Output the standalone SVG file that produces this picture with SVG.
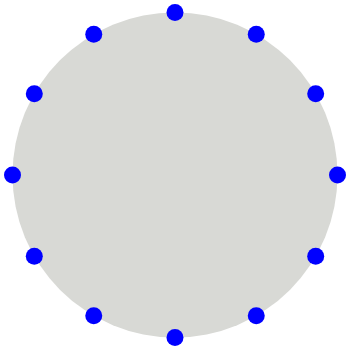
<svg xmlns="http://www.w3.org/2000/svg" width="349" height="351" viewBox="0 0 349 351">
<style>
.bg{fill:#ffffff}
.disk{fill:#d8d9d5}
.dot{fill:#0000ff}
</style>
<rect class="bg" width="349" height="351"/>
<g id="disk"><circle class="disk" cx="175" cy="175" r="162.5"/></g>
<g id="connectors"></g>
<g id="n0"><circle class="dot" cx="175" cy="12.5" r="8.5"/></g>
<g id="n1"><circle class="dot" cx="256.25" cy="34.3" r="8.5"/></g>
<g id="n2"><circle class="dot" cx="315.7" cy="93.75" r="8.5"/></g>
<g id="n3"><circle class="dot" cx="337.5" cy="175" r="8.5"/></g>
<g id="n4"><circle class="dot" cx="315.7" cy="256.25" r="8.5"/></g>
<g id="n5"><circle class="dot" cx="256.25" cy="315.7" r="8.5"/></g>
<g id="n6"><circle class="dot" cx="175" cy="337.5" r="8.5"/></g>
<g id="n7"><circle class="dot" cx="93.75" cy="315.7" r="8.5"/></g>
<g id="n8"><circle class="dot" cx="34.3" cy="256.25" r="8.5"/></g>
<g id="n9"><circle class="dot" cx="12.5" cy="175" r="8.5"/></g>
<g id="n10"><circle class="dot" cx="34.3" cy="93.75" r="8.5"/></g>
<g id="n11"><circle class="dot" cx="93.75" cy="34.3" r="8.5"/></g>
</svg>
